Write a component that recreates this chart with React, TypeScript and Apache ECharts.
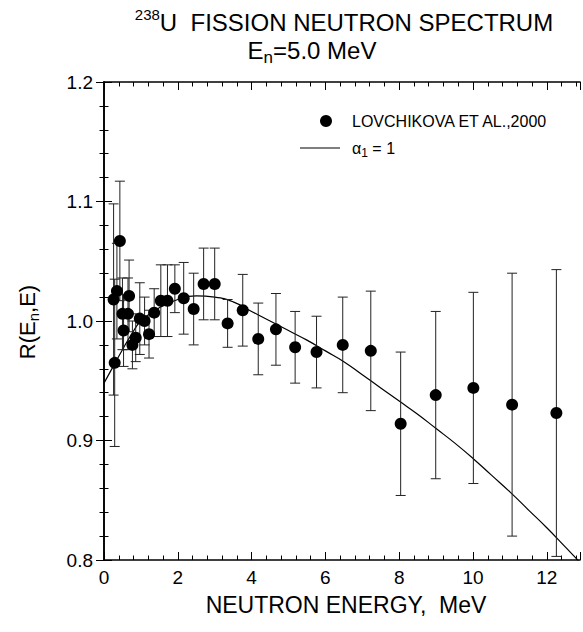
import React, { useEffect, useRef } from "react";
import * as echarts from "echarts";

// Measured points: neutron energy (MeV), ratio R, and error
const energies = [0.26, 0.29, 0.35, 0.43, 0.50, 0.53, 0.65, 0.68, 0.77, 0.86, 0.97, 1.10, 1.22, 1.36, 1.54, 1.72, 1.92, 2.16, 2.43, 2.70, 3.00, 3.35, 3.76, 4.18, 4.66, 5.18, 5.76, 6.47, 7.23, 8.04, 8.99, 10.01, 11.06, 12.26];
const ratios = [1.018, 0.965, 1.025, 1.067, 1.006, 0.992, 1.006, 1.021, 0.980, 0.986, 1.002, 1.000, 0.989, 1.007, 1.017, 1.017, 1.027, 1.019, 1.010, 1.031, 1.031, 0.998, 1.009, 0.985, 0.993, 0.978, 0.974, 0.980, 0.975, 0.914, 0.938, 0.944, 0.930, 0.923];
const errors = [0.08, 0.07, 0.04, 0.05, 0.03, 0.03, 0.03, 0.03, 0.02, 0.02, 0.03, 0.02, 0.02, 0.02, 0.03, 0.03, 0.02, 0.03, 0.03, 0.03, 0.03, 0.02, 0.03, 0.03, 0.03, 0.03, 0.03, 0.04, 0.05, 0.06, 0.07, 0.08, 0.11, 0.12];

// alpha_1 = 1 curve
const curveE = [0, 0.25, 0.5, 0.75, 1.0, 1.5, 2.0, 2.5, 3.0, 3.5, 4.0, 4.5, 5.0, 5.5, 6.0, 6.5, 7.0, 7.5, 8.0, 8.5, 9.0, 9.5, 10.0, 10.5, 11.0, 11.5, 12.0, 12.5, 12.9];
const curveR = [0.948, 0.962, 0.976, 0.989, 1.000, 1.011, 1.018, 1.021, 1.020, 1.016, 1.008, 1.000, 0.992, 0.984, 0.975, 0.966, 0.955, 0.944, 0.933, 0.922, 0.910, 0.898, 0.885, 0.871, 0.857, 0.842, 0.827, 0.811, 0.798];

const xTicks = [0, 2, 4, 6, 8, 10, 12];
const yTicks = [0.8, 0.9, 1.0, 1.1, 1.2];

const FONT = "Liberation Sans, Arial, Helvetica, sans-serif";

export default function App() {
  const ref = useRef<HTMLDivElement>(null);
  useEffect(() => {
    document.body.style.margin = "0";
    if (!ref.current) return;
    const chart = echarts.init(ref.current, null, { renderer: "svg" });
    const pts = energies.map((e, i) => [e, ratios[i], errors[i]]);
    const curve = curveE.map((e, i) => [e, curveR[i]]);
    const axisCommon = {
      type: "value" as const,
      axisLine: { show: true, lineStyle: { color: "#000", width: 1.6 } },
      splitLine: { show: false },
      axisTick: { show: true, inside: true, length: 8, lineStyle: { color: "#000", width: 1 } },
      minorTick: { show: true, splitNumber: 5, length: 4.5, lineStyle: { color: "#000", width: 1 } },
    };
    chart.setOption({
      animation: false,
      grid: { left: 104, right: 3, top: 82, bottom: 72, containLabel: false },
      xAxis: [
        {
          ...axisCommon,
          min: 0,
          max: 12.9,
          interval: 2,
          position: "bottom",
          axisLabel: {
            show: true,
            color: "#000",
            fontSize: 19,
            fontFamily: FONT,
            margin: 8,
            customValues: xTicks,
            formatter: (v: number) => String(v),
          },
        },
        {
          ...axisCommon,
          min: 0,
          max: 12.9,
          interval: 2,
          position: "top",
          axisLabel: { show: false },
        },
      ],
      yAxis: [
        {
          ...axisCommon,
          min: 0.8,
          max: 1.2,
          interval: 0.1,
          position: "left",
          axisLabel: {
            show: true,
            color: "#000",
            fontSize: 19,
            fontFamily: FONT,
            margin: 11,
            customValues: yTicks,
            formatter: (v: number) => v.toFixed(1),
          },
        },
        {
          ...axisCommon,
          min: 0.8,
          max: 1.2,
          interval: 0.1,
          position: "right",
          axisLabel: { show: false },
        },
      ],
      series: [
        {
          type: "line",
          data: curve,
          smooth: true,
          symbol: "none",
          lineStyle: { color: "#000", width: 1.2 },
          clip: true,
          z: 2,
        },
        {
          type: "custom",
          data: pts,
          clip: true,
          z: 3,
          renderItem: (params: any, api: any) => {
            const x = api.value(0);
            const y = api.value(1);
            const e = api.value(2);
            const top = api.coord([x, y + e]);
            const bot = api.coord([x, y - e]);
            const w = 5;
            const st = { stroke: "#222", lineWidth: 1 };
            return {
              type: "group",
              children: [
                { type: "line", shape: { x1: top[0], y1: top[1], x2: bot[0], y2: bot[1] }, style: st },
                { type: "line", shape: { x1: top[0] - w, y1: top[1], x2: top[0] + w, y2: top[1] }, style: st },
                { type: "line", shape: { x1: bot[0] - w, y1: bot[1], x2: bot[0] + w, y2: bot[1] }, style: st },
              ],
            };
          },
        },
        {
          type: "scatter",
          data: pts.map((p) => [p[0], p[1]]),
          symbol: "circle",
          symbolSize: 12,
          itemStyle: { color: "#000", opacity: 1 },
          z: 4,
        },
      ],
      graphic: [
        {
          type: "text",
          x: 344,
          y: 22,
          style: {
            text: "{sup|238}{t|U  FISSION NEUTRON SPECTRUM}",
            align: "center",
            verticalAlign: "middle",
            fill: "#000",
            fontFamily: FONT,
            rich: {
              sup: { fontSize: 15, fontFamily: FONT, padding: [0, 0, 16, 0], fill: "#000" },
              t: { fontSize: 24, fontFamily: FONT, fill: "#000" },
            },
          },
        },
        {
          type: "text",
          x: 312,
          y: 50,
          style: {
            text: "{t|E}{sub|n}{t|=5.0 MeV}",
            align: "center",
            verticalAlign: "middle",
            fill: "#000",
            fontFamily: FONT,
            rich: {
              sub: { fontSize: 17, fontFamily: FONT, padding: [14, 0, 0, 0], fill: "#000" },
              t: { fontSize: 24, fontFamily: FONT, fill: "#000" },
            },
          },
        },
        {
          type: "text",
          x: 346,
          y: 605,
          style: {
            text: "NEUTRON ENERGY,  MeV",
            align: "center",
            verticalAlign: "middle",
            fontSize: 23,
            fontFamily: FONT,
            fill: "#000",
          },
        },
        {
          type: "text",
          x: 27,
          y: 322,
          rotation: Math.PI / 2,
          style: {
            text: "{t|R(E}{sub|n}{t|,E)}",
            align: "center",
            verticalAlign: "middle",
            fill: "#000",
            fontFamily: FONT,
            rich: {
              sub: { fontSize: 15, fontFamily: FONT, padding: [12, 0, 0, 0], fill: "#000" },
              t: { fontSize: 22, fontFamily: FONT, fill: "#000" },
            },
          },
        },
        { type: "circle", shape: { cx: 326, cy: 121, r: 6 }, style: { fill: "#000" } },
        {
          type: "text",
          x: 352,
          y: 121,
          style: { text: "LOVCHIKOVA ET AL.,2000", fontSize: 16, fontFamily: FONT, fill: "#000", verticalAlign: "middle", align: "left" },
        },
        { type: "line", shape: { x1: 300, y1: 148, x2: 340, y2: 148 }, style: { stroke: "#000", lineWidth: 1.2 } },
        {
          type: "text",
          x: 352,
          y: 148,
          style: {
            text: "{t|α}{sub|1}{t| = 1}",
            verticalAlign: "middle",
            align: "left",
            fill: "#000",
            fontFamily: FONT,
            rich: {
              t: { fontSize: 16, fontFamily: FONT, fill: "#000" },
              sub: { fontSize: 12, fontFamily: FONT, padding: [9, 0, 0, 0], fill: "#000" },
            },
          },
        },
      ],
    });
    return () => chart.dispose();
  }, []);
  return <div ref={ref} style={{ width: 583, height: 632 }} />;
}
